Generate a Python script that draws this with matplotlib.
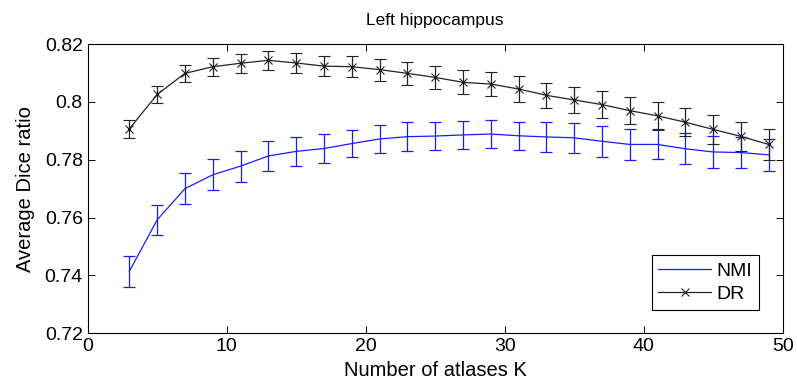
import numpy as np
import matplotlib.pyplot as plt
from matplotlib.lines import Line2D
from matplotlib.ticker import FormatStrFormatter

plt.rcParams['font.family'] = ['Liberation Sans Narrow', 'Liberation Sans', 'DejaVu Sans']

# Number of atlases used for label fusion
K = [3, 5, 7, 9, 11, 13, 15, 17, 19, 21, 23, 25,
     27, 29, 31, 33, 35, 37, 39, 41, 43, 45, 47, 49]

# Average Dice ratio and its error (NMI weighting)
nmi_mean = [0.7414, 0.7592, 0.7700, 0.7748, 0.7778, 0.7813, 0.7829, 0.7839,
            0.7856, 0.7872, 0.7880, 0.7882, 0.7886, 0.7889, 0.7883, 0.7879,
            0.7876, 0.7864, 0.7853, 0.7853, 0.7838, 0.7827, 0.7825, 0.7817]
nmi_err = [0.0053, 0.0052, 0.0053, 0.0054, 0.0054, 0.0052, 0.0050, 0.0049,
           0.0048, 0.0048, 0.0049, 0.0048, 0.0049, 0.0049, 0.0049, 0.0051,
           0.0051, 0.0053, 0.0053, 0.0052, 0.0054, 0.0056, 0.0054, 0.0055]

# Average Dice ratio and its error (DR weighting)
dr_mean = [0.7907, 0.8026, 0.8099, 0.8122, 0.8134, 0.8144, 0.8135, 0.8124,
           0.8122, 0.8112, 0.8099, 0.8085, 0.8068, 0.8062, 0.8045, 0.8023,
           0.8007, 0.7991, 0.7970, 0.7952, 0.7930, 0.7905, 0.7881, 0.7853]
dr_err = [0.0030, 0.0030, 0.0030, 0.0031, 0.0033, 0.0033, 0.0034, 0.0035,
          0.0037, 0.0038, 0.0039, 0.0040, 0.0041, 0.0042, 0.0044, 0.0044,
          0.0045, 0.0046, 0.0046, 0.0048, 0.0049, 0.0051, 0.0051, 0.0053]

nmi_color = '#1a1aff'
dr_color = '#222222'

fig = plt.figure(figsize=(7.97, 3.91), dpi=100)
ax = fig.add_axes([0.110, 0.148, 0.872, 0.739])

ax.errorbar(K, nmi_mean, yerr=nmi_err, color=nmi_color, lw=0.9,
            elinewidth=0.9, capsize=4.5, capthick=0.9)
ax.errorbar(K, dr_mean, yerr=dr_err, color=dr_color, lw=0.9, marker='x',
            markersize=5.5, mew=0.8, elinewidth=0.9, capsize=4.5,
            capthick=0.9)
ax.plot(K, dr_mean, '.', color='black', markersize=2.5)

ax.set_xlim(0, 50)
ax.set_ylim(0.72, 0.82)
ax.set_xticks(np.arange(0, 51, 10))
ax.set_yticks(np.arange(0.72, 0.8201, 0.02))
ax.yaxis.set_major_formatter(FormatStrFormatter('%g'))
ax.tick_params(direction='in', top=True, right=True, labelsize=14,
               length=5, width=0.7)
for s in ax.spines.values():
    s.set_linewidth(0.8)

ax.set_xlabel('Number of atlases K', fontsize=14.5, labelpad=4)
ax.set_ylabel('Average Dice ratio', fontsize=14.5, labelpad=7)
ax.set_title('Left hippocampus', fontsize=12.5, pad=14)

# legend shows plain line styles only
handles = [Line2D([], [], color=nmi_color, lw=0.9),
           Line2D([], [], color=dr_color, lw=0.9, marker='x',
                  markersize=5.5, mew=0.8)]
leg = ax.legend(handles, ['NMI', 'DR'], loc='lower right', fontsize=14,
                fancybox=False, edgecolor='black', framealpha=1,
                handlelength=2.7, handletextpad=0.3, borderpad=0.35,
                labelspacing=0.3, borderaxespad=1.2)
leg.get_frame().set_linewidth(0.8)

fig.savefig('out.png', dpi=100)
